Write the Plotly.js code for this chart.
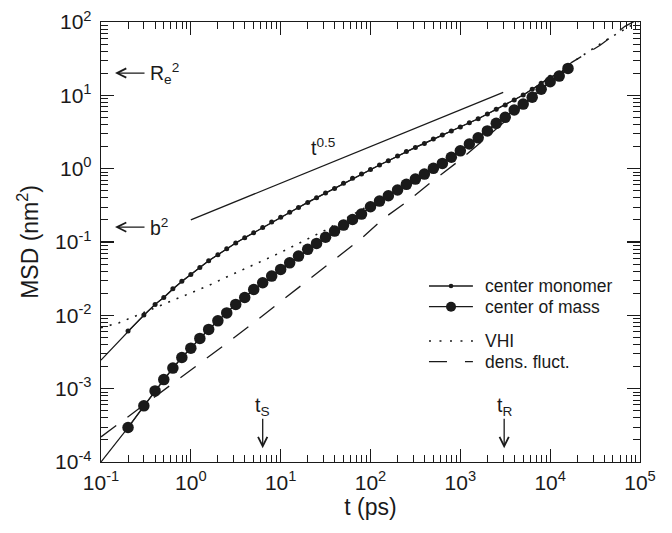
<!DOCTYPE html>
<html><head><meta charset="utf-8">
<script src="https://cdn.plot.ly/plotly-3.0.1.min.js"></script>
<style>html,body{margin:0;padding:0;background:#fff}#chart{width:672px;height:533px}</style>
</head><body><div id="chart"></div>
<script>
// time points (ps) for the simulated MSD curves
const timePs = [0.2, 0.3, 0.4, 0.5, 0.631, 0.794, 1, 1.26, 1.58, 2, 2.51, 3.16, 3.98, 5.01, 6.31, 7.94,
  10, 12.6, 15.8, 20, 25.1, 31.6, 39.8, 50.1, 63.1, 79.4, 100, 126, 158, 200, 251, 316, 398, 501, 631, 794,
  1000, 1260, 1580, 2000, 2510, 3160, 3980, 5010, 6310, 7940, 10000, 12600, 15800];
// center monomer MSD (nm^2)
const monomerMSD = [0.0061, 0.0101, 0.0141, 0.0175, 0.0230, 0.0292, 0.0361, 0.0450, 0.0555, 0.0670, 0.0807,
  0.0966, 0.114, 0.134, 0.158, 0.187, 0.217, 0.254, 0.296, 0.347, 0.401, 0.465, 0.538, 0.631, 0.738, 0.843,
  0.977, 1.12, 1.28, 1.49, 1.72, 1.95, 2.21, 2.54, 2.87, 3.26, 3.69, 4.23, 4.80, 5.56, 6.44, 7.38, 8.63,
  10.1, 12.1, 14.6, 17.6, 20.0, 23.7];
// center of mass MSD (nm^2)
const comMSD = [0.000295, 0.000583, 0.000933, 0.00133, 0.00191, 0.00266, 0.00357, 0.00484, 0.00643, 0.00841,
  0.0108, 0.0141, 0.0175, 0.0225, 0.0278, 0.0343, 0.0423, 0.0520, 0.0643, 0.0794, 0.0957, 0.116, 0.141,
  0.170, 0.203, 0.240, 0.302, 0.361, 0.427, 0.511, 0.611, 0.721, 0.843, 1.01, 1.18, 1.43, 1.75, 2.17,
  2.63, 3.27, 4.15, 5.01, 6.31, 7.60, 9.40, 12.1, 15.3, 18.3, 23.3];
// curve values at the left edge (t = 0.1 ps)
const startT = [0.1];
const monomerStartMSD = [0.00245];
const comStartMSD = [0.0001];
// VHI theory
const vhiT = [0.1, 0.16, 0.5, 1, 1.6, 2.5, 4, 6.3, 10, 16, 25, 31, 100, 316, 1000, 3160, 10000, 18600, 42700, 100000];
const vhiMSD = [0.00676, 0.00794, 0.0142, 0.0202, 0.0257, 0.0333, 0.0427, 0.0555, 0.0721, 0.0951, 0.125,
  0.144, 0.324, 0.741, 1.78, 5.01, 15.8, 29.5, 57.5, 105];
// density fluctuation theory
const densT = [0.1, 0.15, 0.83, 2.5, 5, 10, 20, 39, 78, 140, 258, 500, 1000, 1900, 4000, 17400, 36000, 68000, 100000];
const densMSD = [0.00022, 0.000318, 0.00153, 0.00414, 0.00794, 0.0153, 0.0296, 0.0566, 0.110, 0.21, 0.358,
  0.692, 1.32, 2.59, 5.7, 28.2, 48.1, 87.3, 112];
// t^0.5 guide line
const slopeT = [1, 3000];
const slopeMSD = [0.2, 10.95];
// legend labels
const legendLabels = ['center monomer', 'center of mass', 'VHI', 'dens. fluct.'];
// axis ticks
const xTickVals = [0.1, 1, 10, 100, 1000, 10000, 100000];
const xTickText = ['10<sup>-1</sup>', '10<sup>0</sup>', '10<sup>1</sup>', '10<sup>2</sup>', '10<sup>3</sup>', '10<sup>4</sup>', '10<sup>5</sup>'];
const yTickVals = [1e-4, 1e-3, 1e-2, 1e-1, 1, 10, 100];
const yTickText = ['10<sup>-4</sup>', '10<sup>-3</sup>', '10<sup>-2</sup>', '10<sup>-1</sup>', '10<sup>0</sup>', '10<sup>1</sup>', '10<sup>2</sup>'];

function minorVals(lo, hi) {
  const out = [];
  for (let d = lo; d < hi; d++) for (let k = 2; k <= 9; k++) out.push(k * Math.pow(10, d));
  return out;
}

const ink = '#1a1a1a';
const FAM = 'Liberation Sans, Arial, sans-serif';
const dashStyle = '19px,14px';
const dotStyle = '2px,7px';
const traces = [
  {x: densT, y: densMSD, mode: 'lines', name: legendLabels[3], line: {color: ink, width: 1.3, dash: dashStyle}},
  {x: vhiT, y: vhiMSD, mode: 'lines', name: legendLabels[2], line: {color: ink, width: 1.6, dash: dotStyle}},
  {x: slopeT, y: slopeMSD, mode: 'lines', name: 't^0.5', line: {color: ink, width: 1.3}},
  {x: startT.concat(timePs), y: monomerStartMSD.concat(monomerMSD), mode: 'lines', line: {color: ink, width: 1.2}},
  {x: timePs, y: monomerMSD, mode: 'lines+markers', name: legendLabels[0],
   line: {color: ink, width: 1.2}, marker: {color: ink, size: 5}},
  {x: startT.concat(timePs), y: comStartMSD.concat(comMSD), mode: 'lines', line: {color: ink, width: 1.2}},
  {x: timePs, y: comMSD, mode: 'lines+markers', name: legendLabels[1],
   line: {color: ink, width: 1.2}, marker: {color: ink, size: 11.5}}
];

const tickFont = {family: FAM, size: 21, color: ink};
const axBase = {
  type: 'log', showgrid: false, zeroline: false, showline: true, linecolor: ink, linewidth: 1.3,
  mirror: 'ticks', ticks: 'inside', ticklen: 13, tickwidth: 1.2, tickcolor: ink,
  tickmode: 'array', tickfont: tickFont
};
const annFont = {family: FAM, size: 19.5, color: ink};
const arrowBase = {showarrow: true, text: '', arrowhead: 5, arrowsize: 1.4, arrowwidth: 1.3, arrowcolor: ink,
  xref: 'x', yref: 'y'};

// manual legend (paper coordinates)
const legX0 = 0.6085, legX1 = 0.690, legXm = 0.6494, legXt = 0.7087;
const legRows = [0.400, 0.353, 0.275, 0.228];
const legShapes = [
  {type: 'line', xref: 'paper', yref: 'paper', x0: legX0, x1: legX1, y0: legRows[0], y1: legRows[0], line: {color: ink, width: 1.3}},
  {type: 'circle', xref: 'paper', yref: 'paper', xsizemode: 'pixel', ysizemode: 'pixel', xanchor: legXm, yanchor: legRows[0],
   x0: -2.3, x1: 2.3, y0: -2.3, y1: 2.3, fillcolor: ink, line: {width: 0}},
  {type: 'line', xref: 'paper', yref: 'paper', x0: legX0, x1: legX1, y0: legRows[1], y1: legRows[1], line: {color: ink, width: 1.3}},
  {type: 'circle', xref: 'paper', yref: 'paper', xsizemode: 'pixel', ysizemode: 'pixel', xanchor: legXm, yanchor: legRows[1],
   x0: -5, x1: 5, y0: -5, y1: 5, fillcolor: ink, line: {width: 0}},
  {type: 'line', xref: 'paper', yref: 'paper', x0: legX0, x1: legX1, y0: legRows[2], y1: legRows[2], line: {color: ink, width: 1.6, dash: '2px,8.5px'}},
  {type: 'line', xref: 'paper', yref: 'paper', x0: legX0, x1: legX1, y0: legRows[3], y1: legRows[3], line: {color: ink, width: 1.3, dash: '18px,18px'}}
];
const legAnns = legendLabels.map((t, i) => ({text: t, xref: 'paper', yref: 'paper', x: legXt, y: legRows[i],
  xanchor: 'left', yanchor: 'middle', showarrow: false, font: {family: FAM, size: 17.5, color: ink}}));

const layout = {
  width: 672, height: 533,
  margin: {l: 101, r: 32, t: 22, b: 71},
  paper_bgcolor: '#fff', plot_bgcolor: '#fff',
  font: {family: FAM, color: ink},
  showlegend: false,
  xaxis: Object.assign({}, axBase, {
    range: [-1, 5], tickvals: xTickVals, ticktext: xTickText, ticklabelstandoff: 1,
    minor: {tickmode: 'array', tickvals: minorVals(-1, 5), ticks: 'inside', ticklen: 7, tickwidth: 1, tickcolor: ink},
    title: {text: 't (ps)', font: {size: 23, color: ink}, standoff: 6}
  }),
  yaxis: Object.assign({}, axBase, {
    range: [-4, 2], tickvals: yTickVals, ticktext: yTickText, ticklabelstandoff: 4,
    minor: {tickmode: 'array', tickvals: minorVals(-4, 2), ticks: 'inside', ticklen: 7, tickwidth: 1, tickcolor: ink},
    title: {text: 'MSD (nm<sup>2</sup>)', font: {size: 23, color: ink}, standoff: 10}
  }),
  shapes: legShapes,
  annotations: [
    {text: 't<sup>0.5</sup>', x: 1.477, y: 0.30, xref: 'x', yref: 'y', showarrow: false, font: annFont},
    Object.assign({}, arrowBase, {x: -0.844, y: 1.304, ax: 31, ay: 0}),
    {text: 'R<sub>e</sub><sup>2</sup>', x: -0.477, y: 1.304, xref: 'x', yref: 'y', showarrow: false,
     xanchor: 'left', yanchor: 'middle', font: annFont},
    Object.assign({}, arrowBase, {x: -0.844, y: -0.797, ax: 31, ay: 0}),
    {text: 'b<sup>2</sup>', x: -0.477, y: -0.797, xref: 'x', yref: 'y', showarrow: false,
     xanchor: 'left', yanchor: 'middle', font: annFont},
    Object.assign({}, arrowBase, {x: 0.80, y: -3.812, ax: 0, ay: -31}),
    {text: 't<sub>S</sub>', x: 0.80, y: -3.248, xref: 'x', yref: 'y', showarrow: false, font: annFont},
    Object.assign({}, arrowBase, {x: 3.488, y: -3.812, ax: 0, ay: -31}),
    {text: 't<sub>R</sub>', x: 3.488, y: -3.248, xref: 'x', yref: 'y', showarrow: false, font: annFont}
  ].concat(legAnns)
};

Plotly.newPlot('chart', traces, layout, {displayModeBar: false, staticPlot: true});
</script>
</body></html>
